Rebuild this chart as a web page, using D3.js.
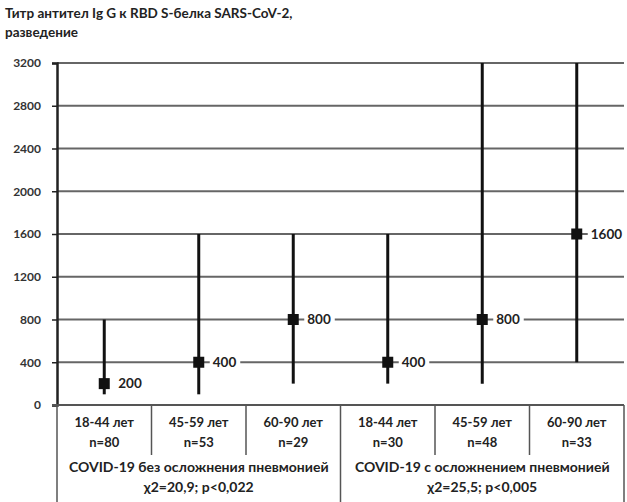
<!DOCTYPE html>
<html>
<head>
<meta charset="utf-8">
<script src="https://cdn.jsdelivr.net/npm/d3@7"></script>
<style>
  body { margin: 0; background: #fff; }
  svg text { font-family: Lato, "Open Sans", sans-serif; }
</style>
</head>
<body>
<div id="chart"></div>
<script>
// data
var ageGroups = ["18-44 лет", "45-59 лет", "60-90 лет", "18-44 лет", "45-59 лет", "60-90 лет"];
var counts = ["n=80", "n=53", "n=29", "n=30", "n=48", "n=33"];
var medians = [200, 400, 800, 400, 800, 1600];
var mins = [100, 100, 200, 200, 200, 400];
var maxs = [800, 1600, 1600, 1600, 3200, 3200];
var groupNames = ["COVID-19 без осложнения пневмонией", "COVID-19 с осложнением пневмонией"];
var groupStats = ["χ2=20,9; p<0,022", "χ2=25,5; p<0,005"];
var yTicks = [0, 400, 800, 1200, 1600, 2000, 2400, 2800, 3200];
var titleLines = ["Титр антител Ig G к RBD S-белка SARS-CoV-2,", "разведение"];

var W = 627, H = 502;
var margin = {top: 63, right: 3, bottom: 97, left: 57};
var width = W - margin.left - margin.right,
    height = H - margin.top - margin.bottom;

var svg = d3.select("#chart").append("svg")
  .attr("width", W).attr("height", H);

// title
svg.append("g").selectAll("text")
  .data(titleLines).enter().append("text")
  .attr("x", 5)
  .attr("y", function(d, i) { return 18 + i * 19; })
  .attr("font-size", 13.5)
  .attr("font-weight", "bold")
  .attr("fill", "#222")
  .text(function(d) { return d; });

var g = svg.append("g")
  .attr("transform", "translate(" + margin.left + "," + margin.top + ")");

var x = d3.scaleBand()
  .domain(d3.range(ageGroups.length))
  .range([0, width]);

var y = d3.scaleLinear()
  .domain([0, 3200])
  .range([height, 0]);

// gridlines
g.append("g").selectAll("line")
  .data(yTicks.filter(function(d) { return d > 0; }))
  .enter().append("line")
  .attr("x1", 0).attr("x2", width)
  .attr("y1", function(d) { return y(d); })
  .attr("y2", function(d) { return y(d); })
  .attr("stroke", "#666")
  .attr("stroke-width", 2);

// y axis
var yAxis = g.append("g")
  .call(d3.axisLeft(y).tickValues(yTicks).tickFormat(d3.format("d")).tickSize(5).tickPadding(11));
yAxis.select(".domain").attr("stroke", "#222").attr("stroke-width", 2.5);
yAxis.selectAll(".tick line").attr("stroke", "#222").attr("stroke-width", 1.5);
yAxis.selectAll(".tick text")
  .attr("font-size", 12)
  .attr("font-weight", "bold")
  .attr("fill", "#333")
  .style("font-family", "Lato, sans-serif");

// whiskers
g.append("g").selectAll("line")
  .data(medians).enter().append("line")
  .attr("x1", function(d, i) { return x(i) + x.bandwidth() / 2; })
  .attr("x2", function(d, i) { return x(i) + x.bandwidth() / 2; })
  .attr("y1", function(d, i) { return y(mins[i]); })
  .attr("y2", function(d, i) { return y(maxs[i]); })
  .attr("stroke", "#111")
  .attr("stroke-width", 3);

// median markers
g.append("g").selectAll("rect")
  .data(medians).enter().append("rect")
  .attr("x", function(d, i) { return x(i) + x.bandwidth() / 2 - 5.5; })
  .attr("y", function(d) { return y(d) - 5.5; })
  .attr("width", 11).attr("height", 11)
  .attr("fill", "#111");

// labels with white box
var lab = g.append("g").selectAll("g")
  .data(medians).enter().append("g")
  .attr("transform", function(d, i) {
    return "translate(" + (x(i) + x.bandwidth() / 2 + 14) + "," + y(d) + ")";
  });
lab.append("rect")
  .attr("x", -3).attr("y", -8)
  .attr("width", function(d) { return String(d).length * 7.5 + 8; })
  .attr("height", 16)
  .attr("fill", "#fff");
lab.append("text")
  .attr("dy", "0.35em")
  .attr("font-size", 13.5)
  .attr("font-weight", "bold")
  .attr("fill", "#222")
  .text(function(d) { return d; });

// table under the axis
var t = g.append("g").attr("transform", "translate(0," + height + ")");
var rowBottom = 50;

t.append("line")
  .attr("x1", -5).attr("x2", width)
  .attr("y1", 0).attr("y2", 0)
  .attr("stroke", "#555").attr("stroke-width", 2);

// inner dividers
t.selectAll(".div")
  .data(d3.range(1, ageGroups.length)).enter().append("line")
  .attr("x1", function(d) { return x(d); })
  .attr("x2", function(d) { return x(d); })
  .attr("y1", 0)
  .attr("y2", function(d) { return d === 3 ? margin.bottom : rowBottom; })
  .attr("stroke", "#555").attr("stroke-width", 1.5);

// outer borders
[0, width].forEach(function(xx) {
  t.append("line")
    .attr("x1", xx).attr("x2", xx)
    .attr("y1", 0).attr("y2", margin.bottom)
    .attr("stroke", "#555").attr("stroke-width", 1.5);
});

function cellText(sel, data, yy, size, center) {
  sel.selectAll(null)
    .data(data).enter().append("text")
    .attr("x", center)
    .attr("y", yy)
    .attr("text-anchor", "middle")
    .attr("font-size", size)
    .attr("font-weight", "bold")
    .attr("fill", "#222")
    .text(function(d) { return d; });
}
var cellX = function(d, i) { return x(i) + x.bandwidth() / 2; };
var groupX = function(d, i) { return x(i * 3) + x.bandwidth() * 1.5; };

cellText(t, ageGroups, 22, 13, cellX);
cellText(t, counts, 42, 13, cellX);
cellText(t, groupNames, 67, 14, groupX);
cellText(t, groupStats, 87, 14, groupX);
</script>
</body>
</html>
